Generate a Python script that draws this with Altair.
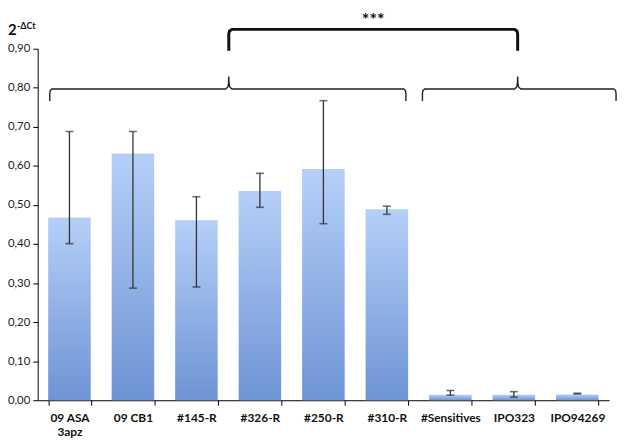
import altair as alt
import pandas as pd

categories = ["09 ASA 3apz", "09 CB1", "#145-R", "#326-R", "#250-R", "#310-R",
              "#Sensitives", "IPO323", "IPO94269"]
values = [0.468, 0.632, 0.461, 0.536, 0.592, 0.489, 0.014, 0.014, 0.015]
err_low = [0.401, 0.287, 0.290, 0.494, 0.452, 0.476, 0.013, 0.008, 0.016]
err_high = [0.688, 0.688, 0.521, 0.581, 0.767, 0.497, 0.025, 0.022, 0.018]
y_ticks = [0.0, 0.1, 0.2, 0.3, 0.4, 0.5, 0.6, 0.7, 0.8, 0.9]

# group braces: (start, middle, end) in category units, level in y units
brace_spans = [(0.19, 3.01, 5.80), (6.06, 7.56, 9.11)]
brace_level = 0.797
bracket_span = (3.01, 7.56)
bracket_level = 0.9495
stars_label = "***"

df = pd.DataFrame({"cat": categories, "val": values, "lo": err_low, "hi": err_high})


def brace_points(a, m, b, L, bid):
    pts = [(a, L - 0.031), (a, L - 0.012), (a + 0.008, L - 0.004), (a + 0.035, L),
           (m - 0.05, L), (m - 0.015, L + 0.005), (m - 0.004, L + 0.014), (m, L + 0.032),
           (m + 0.004, L + 0.014), (m + 0.015, L + 0.005), (m + 0.05, L),
           (b - 0.035, L), (b - 0.008, L - 0.004), (b, L - 0.012), (b, L - 0.031)]
    return [{"id": bid, "i": i, "x": x, "y": y} for i, (x, y) in enumerate(pts)]


rows = []
for k, (a, m, b) in enumerate(brace_spans):
    rows += brace_points(a, m, b, brace_level, f"b{k}")
brace_df = pd.DataFrame(rows)

a, b = bracket_span
L = bracket_level
bpts = [(a, L - 0.055), (a, L - 0.012), (a + 0.01, L - 0.004), (a + 0.05, L),
        (b - 0.05, L), (b - 0.01, L - 0.004), (b, L - 0.012), (b, L - 0.055)]
bracket_df = pd.DataFrame([{"i": i, "x": x, "y": y} for i, (x, y) in enumerate(bpts)])

yscale = alt.Scale(domain=[0, 0.9], nice=False, zero=True)
bandscale = alt.Scale(paddingInner=0.33, paddingOuter=0.165)
xaxis = alt.Axis(labelAngle=0, tickBand="extent", tickSize=5,
                 labelPadding=7, labelFontWeight="bold", labelFontSize=12,
                 labelFont="Lato", labelColor="#111", labelLineHeight=15,
                 labelExpr="datum.label == '09 ASA 3apz' ? ['09 ASA', '3apz'] : datum.label",
                 domainColor="#000", tickColor="#000")
yaxis = alt.Axis(values=y_ticks, grid=False, tickSize=5, labelPadding=3,
                 labelFont="Lato", labelFontSize=11.5, labelColor="#222",
                 labelExpr="replace(format(datum.value, '.2f'), '.', ',')",
                 domainColor="#000", tickColor="#000")
xband = alt.X("cat:N", sort=categories, title=None, scale=bandscale, axis=xaxis)


def yq(field):
    return alt.Y(field, scale=yscale, title=None, axis=yaxis)


grad = alt.Gradient(gradient="linear",
                    stops=[alt.GradientStop(color="#b6cff8", offset=0),
                           alt.GradientStop(color="#6d94d5", offset=1)],
                    x1=0, x2=0, y1=0, y2=1)

base = alt.Chart(df)
bars = base.mark_bar(color=grad).encode(x=xband, y=yq("val:Q"))
rules = base.mark_rule(color="#333", strokeWidth=1.3).encode(
    x=xband, y=yq("lo:Q"), y2="hi:Q")
cap_lo = base.mark_tick(color="#333", size=8, thickness=1.6).encode(x=xband, y=yq("lo:Q"))
cap_hi = base.mark_tick(color="#333", size=8, thickness=1.6).encode(x=xband, y=yq("hi:Q"))
data_layer = alt.layer(bars, rules, cap_lo, cap_hi)

xq = alt.Scale(domain=[0, 9], nice=False, zero=False)
braces = alt.Chart(brace_df).mark_line(color="#222", strokeWidth=1.4, clip=False).encode(
    x=alt.X("x:Q", scale=xq, axis=None),
    y=alt.Y("y:Q", scale=yscale, axis=None),
    detail="id:N", order="i:Q")
bracket = alt.Chart(bracket_df).mark_line(color="#111", strokeWidth=3, clip=False,
                                          strokeJoin="round").encode(
    x=alt.X("x:Q", scale=xq, axis=None),
    y=alt.Y("y:Q", scale=yscale, axis=None),
    order="i:Q")
stars = alt.Chart(pd.DataFrame({"x": [(a + b) / 2], "y": [0.958], "t": [stars_label]})).mark_text(
    font="Lato", fontWeight="bold", fontSize=18, color="#111", baseline="alphabetic",
    align="center").encode(
    x=alt.X("x:Q", scale=xq, axis=None), y=alt.Y("y:Q", scale=yscale, axis=None), text="t:N")
title2 = alt.Chart(pd.DataFrame({"t": ["2"]})).mark_text(
    font="Lato", fontWeight="bold", fontSize=15, color="#111", align="left",
    baseline="alphabetic").encode(x=alt.value(-30), y=alt.value(-14), text="t:N")
title_sup = alt.Chart(pd.DataFrame({"t": ["-ΔCt"]})).mark_text(
    font="Lato", fontWeight="bold", fontSize=9, color="#111", align="left",
    baseline="alphabetic").encode(x=alt.value(-21), y=alt.value(-20), text="t:N")
annot_layer = alt.layer(braces, bracket, stars, title2, title_sup)

chart = alt.layer(data_layer, annot_layer).resolve_scale(
    x="independent").resolve_axis(x="independent", y="independent").properties(
    width=577, height=355,
    autosize=alt.AutoSizeParams(type="none"),
    padding={"left": 30, "top": 39, "right": 8, "bottom": 36},
).configure_view(stroke=None)

chart.save("out.html", embed_options={"renderer": "svg", "actions": False})
